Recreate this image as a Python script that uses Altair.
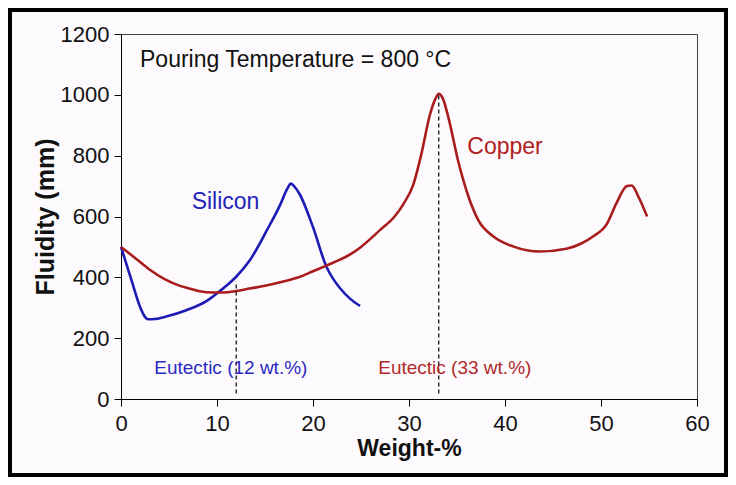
import altair as alt
import pandas as pd

# ---- data ----
si_x = [0, 1.1, 2.0, 2.5, 2.8, 3.5, 4.8, 6.8, 8.9, 10.1, 11, 12, 13.4, 15.2, 16.6, 17.3, 17.7, 18.1, 18.6, 20, 21.4, 22.1, 22.8, 23.85, 24.9]
si_y = [500, 390, 302, 270, 262, 263, 272, 292, 322, 350, 373, 402, 455, 555, 640, 690, 708, 697, 674, 565, 435, 395, 365, 330, 306]

cu_x = [0, 1.5, 3, 4.5, 5.8, 7, 8.2, 9.5, 10.7, 12, 13.4, 15, 16.9, 18.5, 20, 21.5, 22.8, 24, 25, 27, 28.5, 29.4, 30.45,
        31.3, 32.2, 32.8, 33.1, 33.5, 34.1, 35.1, 36.2, 37.2, 38.8, 40.9, 43.6, 46.4, 48, 49.2, 50.6, 51.6, 52.7, 53.2, 53.9, 54.8]
cu_y = [500, 463, 425, 395, 376, 364, 354, 350, 350, 355, 363, 372, 386, 400, 420, 440, 458, 478, 500, 556, 600, 640, 705,
        807, 937, 990, 1003, 990, 926, 785, 665, 589, 534, 501, 485, 494, 512, 535, 575, 643, 700, 702, 665, 600]

eut_x = [12, 33.1]
eut_top = [387, 1000]
eut_bottom = [18, 18]

x_ticks = [0, 10, 20, 30, 40, 50, 60]
y_ticks = [0, 200, 400, 600, 800, 1000, 1200]

BLUE = "#1c1cb4"
RED = "#a81c1c"
FONT = "Liberation Sans"

W, H = 576, 365
PL, PT = 113, 26
TOTW, TOTH = 720, 469

lines_df = pd.DataFrame({
    "x": si_x + cu_x,
    "y": si_y + cu_y,
    "metal": ["Silicon"] * len(si_x) + ["Copper"] * len(cu_x),
})
eut_df = pd.DataFrame({"x": eut_x, "y": eut_bottom, "y2": eut_top})

xs = alt.Scale(domain=[0, 60], nice=False)
ys = alt.Scale(domain=[0, 1200], nice=False)

lines = alt.Chart(lines_df).mark_line(strokeWidth=2.6, interpolate="monotone").encode(
    x=alt.X("x:Q", scale=xs, axis=alt.Axis(
        values=x_ticks, format="d", labelFlush=False, labelOverlap=False,
        title="Weight-%", titleFont=FONT, titleFontSize=23, titleFontWeight="bold",
        titleColor="#111", titleY=49, titleBaseline="middle", labelPadding=7)),
    y=alt.Y("y:Q", scale=ys, axis=alt.Axis(
        values=y_ticks, format="d", labelFlush=False, labelOverlap=False,
        title="Fluidity (mm)", titleFont=FONT, titleFontSize=25, titleFontWeight="bold",
        titleColor="#111", titleX=-76, titleY=H / 2, titleBaseline="middle", labelPadding=5)),
    color=alt.Color("metal:N", scale=alt.Scale(domain=["Silicon", "Copper"], range=[BLUE, RED]), legend=None),
)

rules = alt.Chart(eut_df).mark_rule(color="black", strokeWidth=1.2, strokeDash=[4, 3]).encode(
    x=alt.X("x:Q", scale=xs, title="Weight-%"),
    y=alt.Y("y:Q", scale=ys, title="Fluidity (mm)"),
    y2="y2:Q",
)

def label(text, x, y, color, size, align="left"):
    df = pd.DataFrame({"x": [x], "y": [y], "t": [text]})
    return alt.Chart(df).mark_text(font=FONT, fontSize=size, color=color, align=align,
                                   baseline="alphabetic").encode(
        x=alt.X("x:Q", scale=xs, title="Weight-%"),
        y=alt.Y("y:Q", scale=ys, title="Fluidity (mm)"),
        text="t:N",
    )

texts = [
    label("Pouring Temperature = 800 °C", 1.98, 1093, "#111111", 23),
    label("Silicon", 7.36, 625, "#2323b8", 23),
    label("Copper", 36.07, 804, "#b02020", 23),
    label("Eutectic (12 wt.%)", 11.44, 83, "#2a2ac0", 19, "center"),
    label("Eutectic (33 wt.%)", 34.77, 83, "#b02a2a", 19, "center"),
]

border = alt.Chart(pd.DataFrame({"a": [0]})).mark_rect(
    filled=False, stroke="black", strokeWidth=4).encode(
    x=alt.value(-PL + 2), x2=alt.value(TOTW - PL - 2),
    y=alt.value(-PT + 2), y2=alt.value(TOTH - PT - 2),
)

chart = alt.layer(lines, rules, *texts, border).properties(
    width=W, height=H,
    autosize=alt.AutoSizeParams(type="none"),
    padding={"left": PL, "top": PT, "right": TOTW - PL - W, "bottom": TOTH - PT - H},
    background="#fdfafd",
).configure_view(
    stroke="#444444", strokeWidth=1,
).configure_axis(
    grid=False, domainColor="black", tickColor="black", labelColor="#111111",
    labelFont=FONT, labelFontSize=22, tickSize=7, domainWidth=1, tickWidth=1,
)

chart.save("out.html", embed_options={"renderer": "svg", "actions": False})
